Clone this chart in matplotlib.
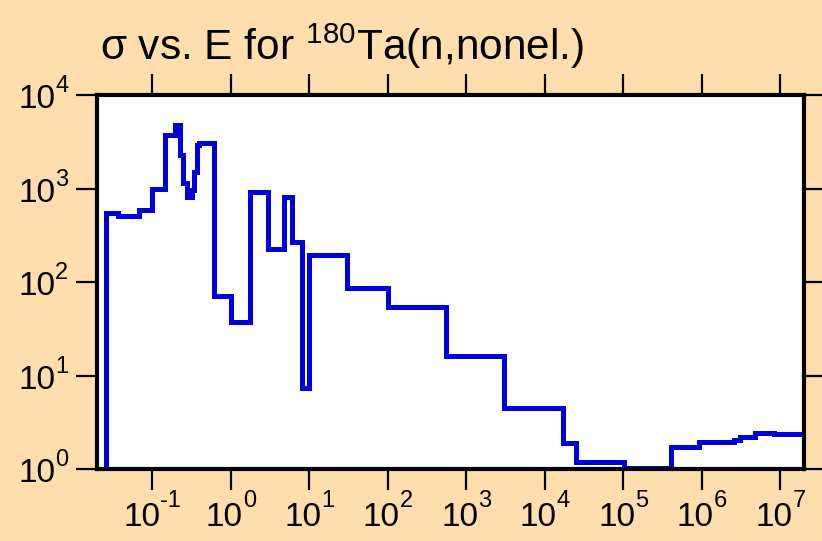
import numpy as np
import matplotlib
matplotlib.use('Agg')
import matplotlib.pyplot as plt
from matplotlib.ticker import FixedLocator, NullLocator
from matplotlib.transforms import offset_copy

# group boundaries (eV) and cross section in each group (b)
energy_edges = [0.0253, 0.037, 0.068, 0.1, 0.147, 0.197, 0.227, 0.246, 0.277,
                0.321, 0.343, 0.371, 0.389, 0.61, 1.0, 1.77, 2.98, 4.8, 6.03,
                8.08, 10.0, 30.2, 99.0, 556.0, 2990.0, 17060.0, 25200.0,
                1.01e5, 4.05e5, 9.1e5, 1.56e6, 2.54e6, 3.09e6, 4.79e6, 8.2e6,
                2.0e7]
sigma = [547, 512, 593, 996, 3770, 4820, 2300, 1146, 811, 971, 1524, 2940,
         3120, 71, 37.8, 931, 225, 811, 272, 7.3, 195, 87.3, 54.7, 16.3,
         4.53, 1.88, 1.2, 1.02, 1.71, 1.96, 1.93, 2.04, 2.18, 2.45, 2.35]

x_ticks = [1e-1, 1e0, 1e1, 1e2, 1e3, 1e4, 1e5, 1e6, 1e7]
y_ticks = [1e0, 1e1, 1e2, 1e3, 1e4]

plt.rcParams['font.family'] = ['Liberation Sans', 'DejaVu Sans']
plt.rcParams['mathtext.fontset'] = 'custom'
plt.rcParams['mathtext.rm'] = 'Liberation Sans'
plt.rcParams['mathtext.it'] = 'Liberation Sans:italic'
plt.rcParams['mathtext.default'] = 'regular'

BASE_FS = 24     # size of the "10"
EXP_FS = 17      # size of the exponent
DPI = 100


def text_width(s, fs):
    # advance widths of Liberation Sans (Arial metrics), in em
    em = fs * DPI / 72.0
    return sum(0.333 if c == '-' else 0.556 for c in s) * em


bg = '#ffdead'
fig = plt.figure(figsize=(8.22, 5.41), dpi=DPI, facecolor=bg)
ax = fig.add_axes([0.1186, 0.1331, 0.8595, 0.6906])
ax.set_facecolor('white')

ax.stairs(sigma, energy_edges, baseline=0.5, color='#0000dd', linewidth=3.6)

ax.set_xscale('log')
ax.set_yscale('log')
ax.set_xlim(0.02, 2e7)
ax.set_ylim(1, 1e4)

ax.xaxis.set_major_locator(FixedLocator(x_ticks))
ax.yaxis.set_major_locator(FixedLocator(y_ticks))
ax.xaxis.set_minor_locator(NullLocator())
ax.yaxis.set_minor_locator(NullLocator())
ax.tick_params(which='major', direction='out', length=15, width=1.6,
               top=True, right=True, color='black',
               labelbottom=False, labelleft=False)
for s in ax.spines.values():
    s.set_linewidth(3)
    s.set_color('black')

# decade labels with a big raised exponent
w10 = text_width('10', BASE_FS)
xtr = ax.get_xaxis_transform()
for t in x_ticks:
    e = str(int(round(np.log10(t))))
    total = w10 + text_width(e, EXP_FS)
    ax.text(t, 0, '10', fontsize=BASE_FS, ha='left', va='baseline', clip_on=False,
            transform=offset_copy(xtr, fig, x=-total / 2, y=-57, units='dots'))
    ax.text(t, 0, e, fontsize=EXP_FS, ha='left', va='baseline', clip_on=False,
            transform=offset_copy(xtr, fig, x=-total / 2 + w10, y=-38, units='dots'))

ytr = ax.get_yaxis_transform()
for t in y_ticks:
    e = str(int(round(np.log10(t))))
    we = text_width(e, EXP_FS)
    ax.text(0, t, e, fontsize=EXP_FS, ha='right', va='baseline', clip_on=False,
            transform=offset_copy(ytr, fig, x=-29, y=3, units='dots'))
    ax.text(0, t, '10', fontsize=BASE_FS, ha='right', va='baseline', clip_on=False,
            transform=offset_copy(ytr, fig, x=-29 - we, y=-13, units='dots'))

fig.text(100 / 822, 1 - 60 / 541, 'σ vs. E for $^{180}$Ta(n,nonel.)',
         fontsize=30.5, ha='left', va='baseline')

fig.savefig('out.png', dpi=DPI, facecolor=bg)
